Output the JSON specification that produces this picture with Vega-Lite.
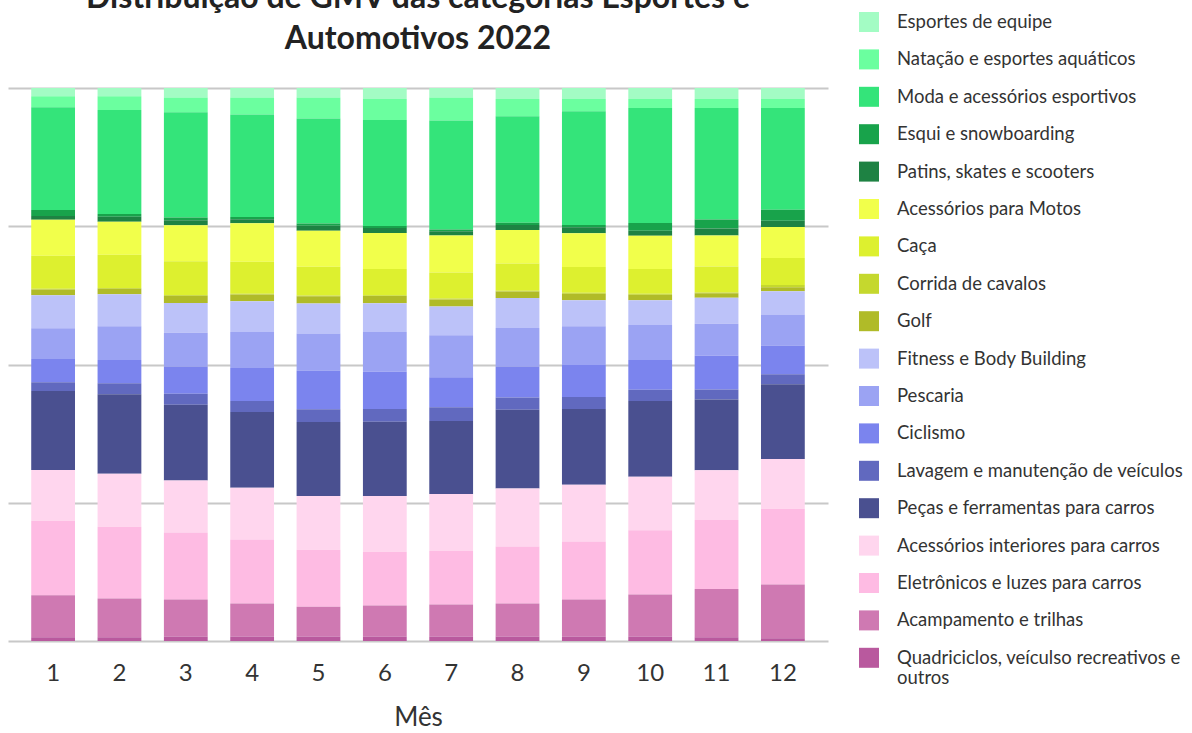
{
  "$schema": "https://vega.github.io/schema/vega-lite/v6.json",
  "width": 820,
  "height": 553,
  "autosize": {"type": "none"},
  "padding": {"left": 8, "top": 88, "right": 364, "bottom": 92},
  "background": "white",
  "title": {
    "text": ["Distribuição de GMV das categorias Esportes e", "Automotivos 2022"],
    "anchor": "middle",
    "frame": "group",
    "font": "Lato",
    "fontSize": 32,
    "fontWeight": "bold",
    "color": "#222222",
    "lineHeight": 41,
    "offset": 0,
    "dy": 44
  },
  "data": {
    "values": [
      {"Mês": 1, "Esportes de equipe": 1.5, "Natação e esportes aquáticos": 2.0, "Moda e acessórios esportivos": 18.6, "Esqui e snowboarding": 1.1, "Patins, skates e scooters": 0.7, "Acessórios para Motos": 6.5, "Caça": 6.0, "Corrida de cavalos": 0.15, "Golf": 1.0, "Fitness e Body Building": 6.0, "Pescaria": 5.6, "Ciclismo": 4.2, "Lavagem e manutenção de veículos": 1.6, "Peças e ferramentas para carros": 14.3, "Acessórios interiores para carros": 9.2, "Eletrônicos e luzes para carros": 13.5, "Acampamento e trilhas": 7.6, "Quadriciclos, veículso recreativos e outros": 0.7},
      {"Mês": 2, "Esportes de equipe": 1.5, "Natação e esportes aquáticos": 2.5, "Moda e acessórios esportivos": 18.8, "Esqui e snowboarding": 0.5, "Patins, skates e scooters": 0.9, "Acessórios para Motos": 6.0, "Caça": 6.0, "Corrida de cavalos": 0.15, "Golf": 1.0, "Fitness e Body Building": 5.8, "Pescaria": 6.1, "Ciclismo": 4.2, "Lavagem e manutenção de veículos": 2.0, "Peças e ferramentas para carros": 14.4, "Acessórios interiores para carros": 9.6, "Eletrônicos e luzes para carros": 13.0, "Acampamento e trilhas": 7.0, "Quadriciclos, veículso recreativos e outros": 0.7},
      {"Mês": 3, "Esportes de equipe": 1.7, "Natação e esportes aquáticos": 2.7, "Moda e acessórios esportivos": 19.0, "Esqui e snowboarding": 0.5, "Patins, skates e scooters": 0.9, "Acessórios para Motos": 6.5, "Caça": 6.1, "Corrida de cavalos": 0.15, "Golf": 1.3, "Fitness e Body Building": 5.4, "Pescaria": 6.1, "Ciclismo": 4.9, "Lavagem e manutenção de veículos": 2.0, "Peças e ferramentas para carros": 13.7, "Acessórios interiores para carros": 9.4, "Eletrônicos e luzes para carros": 12.1, "Acampamento e trilhas": 6.7, "Quadriciclos, veículso recreativos e outros": 0.8},
      {"Mês": 4, "Esportes de equipe": 1.7, "Natação e esportes aquáticos": 3.1, "Moda e acessórios esportivos": 18.6, "Esqui e snowboarding": 0.4, "Patins, skates e scooters": 0.7, "Acessórios para Motos": 7.0, "Caça": 5.8, "Corrida de cavalos": 0.15, "Golf": 1.2, "Fitness e Body Building": 5.6, "Pescaria": 6.5, "Ciclismo": 6.0, "Lavagem e manutenção de veículos": 2.0, "Peças e ferramentas para carros": 13.7, "Acessórios interiores para carros": 9.4, "Eletrônicos e luzes para carros": 11.6, "Acampamento e trilhas": 6.0, "Quadriciclos, veículso recreativos e outros": 0.8},
      {"Mês": 5, "Esportes de equipe": 1.7, "Natação e esportes aquáticos": 3.8, "Moda e acessórios esportivos": 19.0, "Esqui e snowboarding": 0.4, "Patins, skates e scooters": 0.9, "Acessórios para Motos": 6.5, "Caça": 5.2, "Corrida de cavalos": 0.15, "Golf": 1.3, "Fitness e Body Building": 5.4, "Pescaria": 6.7, "Ciclismo": 7.0, "Lavagem e manutenção de veículos": 2.3, "Peças e ferramentas para carros": 13.4, "Acessórios interiores para carros": 9.7, "Eletrônicos e luzes para carros": 10.3, "Acampamento e trilhas": 5.4, "Quadriciclos, veículso recreativos e outros": 0.8},
      {"Mês": 6, "Esportes de equipe": 2.0, "Natação e esportes aquáticos": 3.8, "Moda e acessórios esportivos": 19.1, "Esqui e snowboarding": 0.4, "Patins, skates e scooters": 0.9, "Acessórios para Motos": 6.5, "Caça": 4.7, "Corrida de cavalos": 0.15, "Golf": 1.3, "Fitness e Body Building": 5.2, "Pescaria": 7.2, "Ciclismo": 6.7, "Lavagem e manutenção de veículos": 2.3, "Peças e ferramentas para carros": 13.4, "Acessórios interiores para carros": 10.1, "Eletrônicos e luzes para carros": 9.7, "Acampamento e trilhas": 5.6, "Quadriciclos, veículso recreativos e outros": 0.8},
      {"Mês": 7, "Esportes de equipe": 1.7, "Natação e esportes aquáticos": 4.2, "Moda e acessórios esportivos": 19.7, "Esqui e snowboarding": 0.3, "Patins, skates e scooters": 0.8, "Acessórios para Motos": 6.7, "Caça": 4.7, "Corrida de cavalos": 0.15, "Golf": 1.3, "Fitness e Body Building": 5.2, "Pescaria": 7.6, "Ciclismo": 5.4, "Lavagem e manutenção de veículos": 2.5, "Peças e ferramentas para carros": 13.2, "Acessórios interiores para carros": 10.3, "Eletrônicos e luzes para carros": 9.7, "Acampamento e trilhas": 5.8, "Quadriciclos, veículso recreativos e outros": 0.8},
      {"Mês": 8, "Esportes de equipe": 2.0, "Natação e esportes aquáticos": 3.1, "Moda e acessórios esportivos": 19.3, "Esqui e snowboarding": 0.4, "Patins, skates e scooters": 0.9, "Acessórios para Motos": 6.1, "Caça": 4.9, "Corrida de cavalos": 0.15, "Golf": 1.2, "Fitness e Body Building": 5.4, "Pescaria": 7.0, "Ciclismo": 5.6, "Lavagem e manutenção de veículos": 2.2, "Peças e ferramentas para carros": 14.3, "Acessórios interiores para carros": 10.5, "Eletrônicos e luzes para carros": 10.3, "Acampamento e trilhas": 6.0, "Quadriciclos, veículso recreativos e outros": 0.8},
      {"Mês": 9, "Esportes de equipe": 2.0, "Natação e esportes aquáticos": 2.2, "Moda e acessórios esportivos": 20.6, "Esqui e snowboarding": 0.4, "Patins, skates e scooters": 1.1, "Acessórios para Motos": 6.1, "Caça": 4.7, "Corrida de cavalos": 0.15, "Golf": 1.2, "Fitness e Body Building": 4.7, "Pescaria": 7.0, "Ciclismo": 5.8, "Lavagem e manutenção de veículos": 2.2, "Peças e ferramentas para carros": 13.7, "Acessórios interiores para carros": 10.3, "Eletrônicos e luzes para carros": 10.5, "Acampamento e trilhas": 6.7, "Quadriciclos, veículso recreativos e outros": 0.8},
      {"Mês": 10, "Esportes de equipe": 2.0, "Natação e esportes aquáticos": 1.6, "Moda e acessórios esportivos": 20.8, "Esqui e snowboarding": 1.4, "Patins, skates e scooters": 0.9, "Acessórios para Motos": 6.0, "Caça": 4.5, "Corrida de cavalos": 0.15, "Golf": 1.0, "Fitness e Body Building": 4.5, "Pescaria": 6.3, "Ciclismo": 5.4, "Lavagem e manutenção de veículos": 2.0, "Peças e ferramentas para carros": 13.7, "Acessórios interiores para carros": 9.7, "Eletrônicos e luzes para carros": 11.6, "Acampamento e trilhas": 7.6, "Quadriciclos, veículso recreativos e outros": 0.8},
      {"Mês": 11, "Esportes de equipe": 2.0, "Natação e esportes aquáticos": 1.6, "Moda e acessórios esportivos": 20.2, "Esqui e snowboarding": 1.6, "Patins, skates e scooters": 1.3, "Acessórios para Motos": 5.6, "Caça": 4.7, "Corrida de cavalos": 0.15, "Golf": 0.8, "Fitness e Body Building": 4.7, "Pescaria": 5.8, "Ciclismo": 6.1, "Lavagem e manutenção de veículos": 1.8, "Peças e ferramentas para carros": 12.8, "Acessórios interiores para carros": 9.0, "Eletrônicos e luzes para carros": 12.5, "Acampamento e trilhas": 8.7, "Quadriciclos, veículso recreativos e outros": 0.7},
      {"Mês": 12, "Esportes de equipe": 2.0, "Natação e esportes aquáticos": 1.6, "Moda e acessórios esportivos": 18.4, "Esqui e snowboarding": 2.0, "Patins, skates e scooters": 1.1, "Acessórios para Motos": 5.6, "Caça": 4.9, "Corrida de cavalos": 0.4, "Golf": 0.7, "Fitness e Body Building": 4.2, "Pescaria": 5.6, "Ciclismo": 5.2, "Lavagem e manutenção de veículos": 1.8, "Peças e ferramentas para carros": 13.5, "Acessórios interiores para carros": 9.0, "Eletrônicos e luzes para carros": 13.7, "Acampamento e trilhas": 9.7, "Quadriciclos, veículso recreativos e outros": 0.5}
    ]
  },
  "transform": [
    {"fold": ["Esportes de equipe", "Natação e esportes aquáticos", "Moda e acessórios esportivos", "Esqui e snowboarding", "Patins, skates e scooters", "Acessórios para Motos", "Caça", "Corrida de cavalos", "Golf", "Fitness e Body Building", "Pescaria", "Ciclismo", "Lavagem e manutenção de veículos", "Peças e ferramentas para carros", "Acessórios interiores para carros", "Eletrônicos e luzes para carros", "Acampamento e trilhas", "Quadriciclos, veículso recreativos e outros"], "as": ["Categoria", "GMV"]},
    {"calculate": "indexof(['Esportes de equipe', 'Natação e esportes aquáticos', 'Moda e acessórios esportivos', 'Esqui e snowboarding', 'Patins, skates e scooters', 'Acessórios para Motos', 'Caça', 'Corrida de cavalos', 'Golf', 'Fitness e Body Building', 'Pescaria', 'Ciclismo', 'Lavagem e manutenção de veículos', 'Peças e ferramentas para carros', 'Acessórios interiores para carros', 'Eletrônicos e luzes para carros', 'Acampamento e trilhas', 'Quadriciclos, veículso recreativos e outros'], datum.Categoria)", "as": "ordem"}
  ],
  "mark": {"type": "bar"},
  "encoding": {
    "x": {
      "field": "Mês",
      "type": "ordinal",
      "scale": {"paddingInner": 0.34, "paddingOuter": 0.35},
      "axis": {
        "title": "Mês",
        "labelAngle": 0,
        "labelFont": "Lato",
        "labelFontSize": 24,
        "labelColor": "#333333",
        "labelPadding": 20,
        "ticks": false,
        "tickSize": 0,
        "domain": false,
        "titleFont": "Lato",
        "titleFontSize": 26,
        "titleFontWeight": "normal",
        "titleColor": "#333333",
        "titlePadding": 19
      }
    },
    "y": {
      "field": "GMV",
      "type": "quantitative",
      "stack": "normalize",
      "scale": {"domain": [0, 1], "nice": false},
      "axis": {
        "title": null,
        "labels": false,
        "ticks": false,
        "domain": false,
        "grid": true,
        "values": [0, 0.25, 0.5, 0.75, 1],
        "gridColor": "#C8C8C8",
        "gridWidth": 2
      }
    },
    "color": {
      "field": "Categoria",
      "type": "nominal",
      "scale": {
        "domain": ["Esportes de equipe", "Natação e esportes aquáticos", "Moda e acessórios esportivos", "Esqui e snowboarding", "Patins, skates e scooters", "Acessórios para Motos", "Caça", "Corrida de cavalos", "Golf", "Fitness e Body Building", "Pescaria", "Ciclismo", "Lavagem e manutenção de veículos", "Peças e ferramentas para carros", "Acessórios interiores para carros", "Eletrônicos e luzes para carros", "Acampamento e trilhas", "Quadriciclos, veículso recreativos e outros"],
        "range": ["#A3FCC4", "#6BFF9F", "#34E47A", "#18A34B", "#1E8243", "#F1FF4B", "#DDF02F", "#C5D82E", "#B0BB28", "#BCC2F9", "#9BA3F3", "#7B84EE", "#6169BF", "#4A5090", "#FFD6EE", "#FEBBE3", "#CF79B2", "#B9599E"]
      },
      "legend": {
        "orient": "none",
        "legendX": 851,
        "legendY": -76,
        "title": null,
        "symbolType": "square",
        "symbolSize": 400,
        "symbolStrokeWidth": 0,
        "symbolOpacity": 1,
        "labelFont": "Lato",
        "labelFontSize": 18.5,
        "labelColor": "#333333",
        "labelOffset": 18,
        "labelLimit": 400,
        "labelLineHeight": 27,
        "rowPadding": 17.4,
        "padding": 0,
        "labelExpr": "datum.label == 'Quadriciclos, veículso recreativos e outros' ? ['Quadriciclos, veículso recreativos e', 'outros'] : datum.label"
      }
    },
    "order": {"field": "ordem", "type": "quantitative", "sort": "descending"}
  },
  "config": {
    "view": {"stroke": null}
  }
}
